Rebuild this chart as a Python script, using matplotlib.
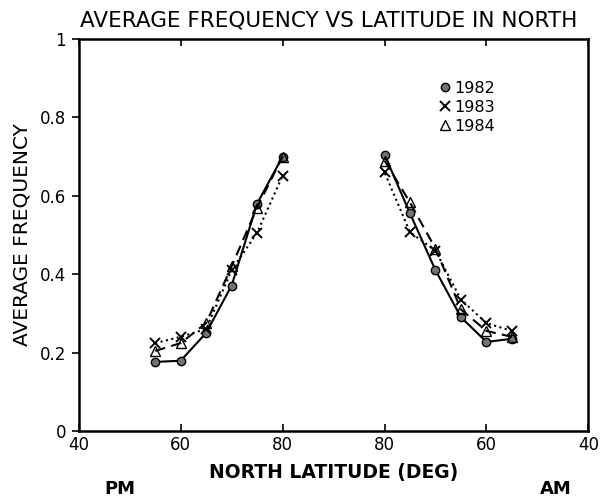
import matplotlib
matplotlib.use("Agg")
import matplotlib.pyplot as plt

lat = [55, 60, 65, 70, 75, 80]

# PM side (left half)
pm_1982 = [0.176, 0.179, 0.25, 0.371, 0.58, 0.70]
pm_1983 = [0.224, 0.24, 0.26, 0.41, 0.506, 0.651]
pm_1984 = [0.204, 0.224, 0.275, 0.42, 0.57, 0.70]

# AM side (right half)
am_1982 = [0.235, 0.227, 0.29, 0.41, 0.555, 0.705]
am_1983 = [0.255, 0.275, 0.335, 0.46, 0.507, 0.66]
am_1984 = [0.24, 0.255, 0.31, 0.465, 0.583, 0.69]

tick_labels = ["40", "60", "80", "80", "60", "40"]
y_labels = ["0", "0.2", "0.4", "0.6", "0.8", "1"]

plt.rcParams["font.family"] = ["DejaVu Sans"]

fig = plt.figure(figsize=(6.01, 5.01), dpi=100)
ax = fig.add_axes([0.131, 0.140, 0.848, 0.782])

pm_x = [l - 40 for l in lat]
am_x = [140 - l for l in lat]

styles = [
    ("1982", pm_1982, am_1982, "-", dict(marker="o", markersize=6, markerfacecolor="0.45", markeredgecolor="black")),
    ("1983", pm_1983, am_1983, ":", dict(marker="x", markersize=7, markeredgewidth=1.4)),
    ("1984", pm_1984, am_1984, (0, (5, 3)), dict(marker="^", markersize=7, markerfacecolor="none", markeredgecolor="black")),
]

for name, pm, am, ls, mk in styles:
    ax.plot(pm_x, pm, color="black", linestyle=ls, linewidth=1.5, label=name, **mk)
    ax.plot(am_x, am, color="black", linestyle=ls, linewidth=1.5, **mk)

ax.set_xlim(0, 100)
ax.set_ylim(0, 1)
ax.set_xticks([0, 20, 40, 60, 80, 100])
ax.set_xticklabels(tick_labels, fontsize=12)
ax.set_yticks([0, 0.2, 0.4, 0.6, 0.8, 1.0])
ax.set_yticklabels(y_labels, fontsize=12)
ax.tick_params(axis="x", direction="in", top=True, length=5, width=1.2, pad=4)
ax.tick_params(axis="y", direction="out", length=5, width=1.2, pad=4)
for s in ax.spines.values():
    s.set_linewidth(1.8)

ax.set_title("AVERAGE FREQUENCY VS LATITUDE IN NORTH", fontsize=15.5, pad=9, x=0.49)
ax.set_xlabel("NORTH LATITUDE (DEG)", fontsize=13.5, fontweight="bold", labelpad=6)
ax.set_ylabel("AVERAGE FREQUENCY", fontsize=14.5, labelpad=6)

fig.text(0.20, 0.014, "PM", fontsize=13, fontweight="bold", ha="center")
fig.text(0.925, 0.014, "AM", fontsize=13, fontweight="bold", ha="center")

leg = ax.legend(loc="upper left", bbox_to_anchor=(0.69, 0.93), frameon=False,
                handlelength=0, handletextpad=0.6, fontsize=11.5, labelspacing=0.25)

fig.savefig("out.png", dpi=100)
